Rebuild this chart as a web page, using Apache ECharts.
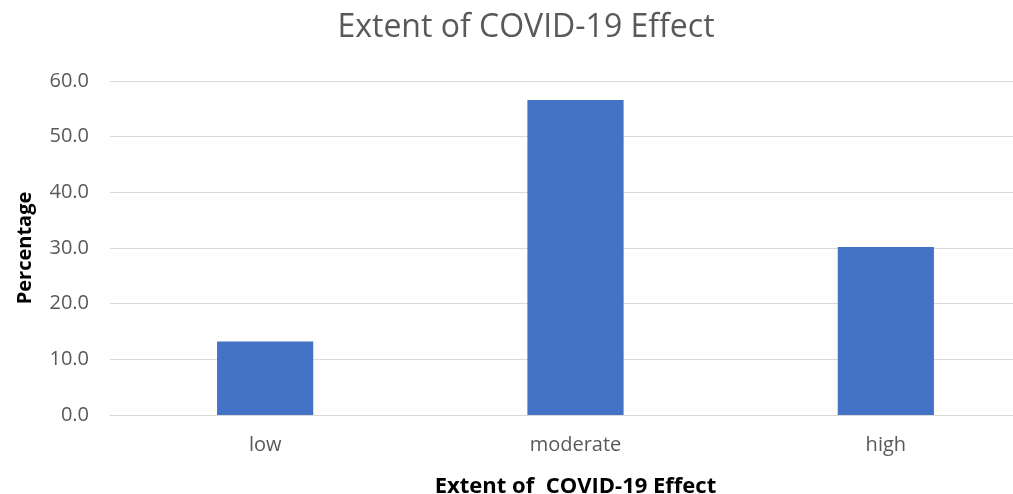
<!DOCTYPE html>
<html>
<head>
<meta charset="utf-8">
<script src="https://cdn.jsdelivr.net/npm/echarts@6/dist/echarts.min.js"></script>
<style>html,body{margin:0;padding:0;background:#fff;}#c{width:1013px;height:494px;}</style>
</head>
<body>
<div id="c"></div>
<script>
const categories = ['low', 'moderate', 'high'];
const percentages = [13.2, 56.6, 30.2];
const chartTitle = 'Extent of COVID-19 Effect';
const xAxisName = 'Extent of  COVID-19 Effect';
const yAxisName = 'Percentage';

const chart = echarts.init(document.getElementById('c'));
chart.setOption({
  animation: false,
  backgroundColor: '#ffffff',
  title: {
    text: chartTitle,
    left: 521, top: 7, textAlign: 'center',
    textStyle: { fontFamily: 'Open Sans', fontWeight: 'normal', fontSize: 32, color: '#595959' }
  },
  grid: { left: 110, top: 81, right: -28, bottom: 79, containLabel: false, outerBoundsMode: 'none' },
  xAxis: {
    type: 'category',
    data: categories,
    name: xAxisName,
    nameLocation: 'middle',
    nameGap: 61,
    nameTextStyle: { fontFamily: 'Open Sans', fontWeight: 'bold', fontSize: 22, color: '#000' },
    axisLine: { lineStyle: { color: '#d9d9d9', width: 1 } },
    axisTick: { show: false },
    axisLabel: { fontFamily: 'Open Sans', fontSize: 20, color: '#595959', margin: 20 }
  },
  yAxis: {
    type: 'value',
    min: 0, max: 60, interval: 10,
    name: yAxisName,
    nameLocation: 'middle',
    nameGap: 75,
    nameTextStyle: { fontFamily: 'Open Sans', fontWeight: 'bold', fontSize: 20, color: '#000' },
    axisLine: { show: false },
    axisTick: { show: false },
    splitLine: { lineStyle: { color: '#d9d9d9', width: 1 } },
    axisLabel: { fontFamily: 'Open Sans', fontSize: 20, color: '#595959', margin: 21,
      formatter: v => v.toFixed(1) }
  },
  series: [{
    type: 'bar',
    data: percentages,
    barWidth: '31%',
    itemStyle: { color: '#4472c4' }
  }]
});
</script>
</body>
</html>
